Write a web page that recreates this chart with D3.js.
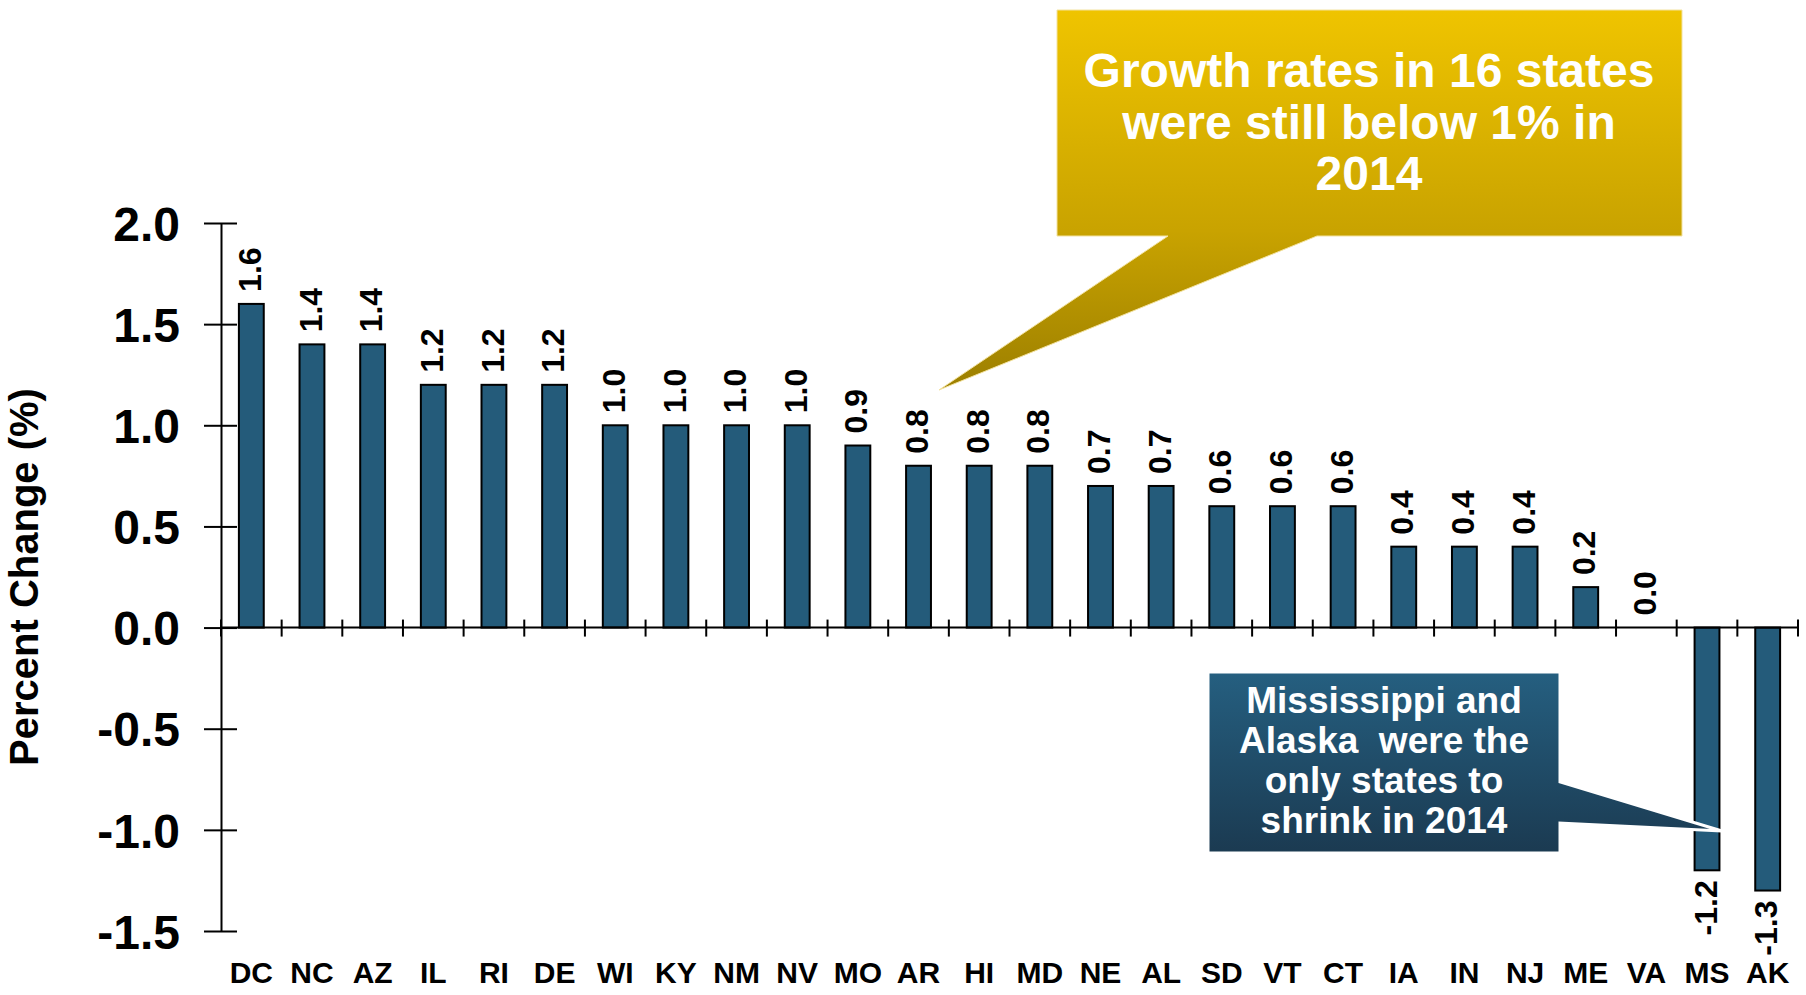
<!DOCTYPE html>
<html>
<head>
<meta charset="utf-8">
<script src="https://cdn.jsdelivr.net/npm/d3@7/dist/d3.min.js"></script>
<style>
  html, body { margin: 0; padding: 0; background: #ffffff; }
  svg { display: block; }
  text { font-family: "Liberation Sans", Arial, sans-serif; font-weight: bold; }
</style>
</head>
<body>
<svg id="chart" width="1806" height="995"></svg>
<script>
// Real GDP growth by state, 2014 (percent change)
const states = ["DC","NC","AZ","IL","RI","DE","WI","KY","NM","NV","MO","AR","HI",
                "MD","NE","AL","SD","VT","CT","IA","IN","NJ","ME","VA","MS","AK"];
const growth = [1.6, 1.4, 1.4, 1.2, 1.2, 1.2, 1.0, 1.0, 1.0, 1.0, 0.9, 0.8, 0.8,
                0.8, 0.7, 0.7, 0.6, 0.6, 0.6, 0.4, 0.4, 0.4, 0.2, 0.0, -1.2, -1.3];
const yTicks = [2.0, 1.5, 1.0, 0.5, 0.0, -0.5, -1.0, -1.5];
const yTitle = "Percent Change (%)";
const noteTop = ["Growth rates in 16 states", "were still below 1% in", "2014"];
const noteBottom = ["Mississippi and", "Alaska  were the", "only states to", "shrink in 2014"];

const svg = d3.select("#chart");
const data = states.map((s, i) => ({ state: s, value: growth[i] }));

const x = d3.scaleBand().domain(states).range([221, 1798]).paddingInner(0.59).paddingOuter(0.295);
const y = d3.scaleLinear().domain([-1.5, 2.0]).range([931, 223]);
const fmt = v => v.toFixed(1);

// Y axis with ticks crossing the axis line
const yAxis = svg.append("g")
  .attr("transform", "translate(221,0)")
  .call(d3.axisLeft(y).tickValues(yTicks).tickSizeInner(17).tickSizeOuter(0).tickPadding(24).tickFormat(fmt));
yAxis.select(".domain").attr("stroke", "#000").attr("stroke-width", 2);
yAxis.selectAll(".tick line").attr("stroke", "#000").attr("stroke-width", 2);
yAxis.selectAll(".tick").append("line").attr("x1", 0).attr("x2", 16).attr("stroke", "#000").attr("stroke-width", 2);
yAxis.selectAll(".tick text")
  .attr("fill", "#000").attr("font-size", 48).attr("font-family", "'Liberation Sans', Arial, sans-serif")
  .attr("font-weight", "bold").attr("dy", "0.36em");

// Y axis title
svg.append("text")
  .attr("transform", "translate(38,577) rotate(-90)")
  .attr("text-anchor", "middle").attr("font-size", 40).attr("fill", "#000")
  .text(yTitle);

// Bars
svg.append("g").selectAll("rect").data(data).join("rect")
  .attr("x", d => x(d.state))
  .attr("width", x.bandwidth())
  .attr("y", d => y(Math.max(0, d.value)))
  .attr("height", d => Math.abs(y(d.value) - y(0)))
  .attr("fill", "#245b7a")
  .attr("stroke", "#000")
  .attr("stroke-width", 2);

// Zero line with category boundary ticks
const zeroY = y(0);
svg.append("line").attr("x1", 221).attr("x2", 1798).attr("y1", zeroY).attr("y2", zeroY)
  .attr("stroke", "#000").attr("stroke-width", 2);
const gap = (x.step() - x.bandwidth()) / 2;
const bounds = states.map(s => x(s) - gap).concat([x.range()[1]]);
svg.append("g").selectAll("line").data(bounds).join("line")
  .attr("x1", d => d).attr("x2", d => d)
  .attr("y1", zeroY - 8).attr("y2", zeroY + 9)
  .attr("stroke", "#000").attr("stroke-width", 2);

// Category labels along the bottom
const xAxis = svg.append("g")
  .attr("transform", "translate(0,962)")
  .call(d3.axisBottom(x).tickSize(0).tickPadding(0));
xAxis.select(".domain").remove();
xAxis.selectAll(".tick text")
  .attr("fill", "#000").attr("font-size", 30).attr("font-weight", "bold")
  .attr("font-family", "'Liberation Sans Narrow', 'Arial Narrow', 'Liberation Sans', sans-serif")
  .attr("dy", "0.71em");

// Value labels, rotated
svg.append("g").selectAll("text").data(data).join("text")
  .attr("transform", d => `translate(${x(d.state) + x.bandwidth() / 2},${y(d.value)}) rotate(-90)`)
  .attr("x", d => d.value >= 0 ? 12 : -10)
  .attr("dy", "0.3em")
  .attr("text-anchor", d => d.value >= 0 ? "start" : "end")
  .attr("font-size", 32).attr("fill", "#000")
  .text(d => fmt(d.value));

// Callout gradients
const defs = svg.append("defs");
const gy = defs.append("linearGradient").attr("id", "goldFill")
  .attr("gradientUnits", "userSpaceOnUse").attr("x1", 0).attr("x2", 0).attr("y1", 10).attr("y2", 390);
gy.append("stop").attr("offset", 0).attr("stop-color", "#efc400");
gy.append("stop").attr("offset", 0.58).attr("stop-color", "#c9a300");
gy.append("stop").attr("offset", 1).attr("stop-color", "#9c7f00");
const gb = defs.append("linearGradient").attr("id", "blueFill")
  .attr("gradientUnits", "userSpaceOnUse").attr("x1", 0).attr("x2", 0).attr("y1", 672).attr("y2", 853);
gb.append("stop").attr("offset", 0).attr("stop-color", "#255f80");
gb.append("stop").attr("offset", 1).attr("stop-color", "#1b3a51");

// Upper callout
svg.append("path")
  .attr("d", "M1057,10 H1682 V236 H1317 L939,390 L1168,236 H1057 Z")
  .attr("fill", "url(#goldFill)")
  .attr("stroke", "#f3e2a0").attr("stroke-width", 1);
svg.append("text")
  .attr("text-anchor", "middle").attr("font-size", 48).attr("fill", "#fff")
  .selectAll("tspan").data(noteTop).join("tspan")
  .attr("x", 1369).attr("y", (d, i) => 87 + i * 51.5)
  .text(d => d);

// Lower callout
svg.append("path")
  .attr("d", "M1208,672 H1560 V782 L1722,831 L1560,823 V853 H1208 Z")
  .attr("fill", "url(#blueFill)")
  .attr("stroke", "#ffffff").attr("stroke-width", 3).attr("stroke-linejoin", "miter");
svg.append("text")
  .attr("text-anchor", "middle").attr("font-size", 37).attr("fill", "#fff")
  .selectAll("tspan").data(noteBottom).join("tspan")
  .attr("x", 1384).attr("y", (d, i) => 713 + i * 40)
  .attr("xml:space", "preserve")
  .style("white-space", "pre")
  .text(d => d);
</script>
</body>
</html>
